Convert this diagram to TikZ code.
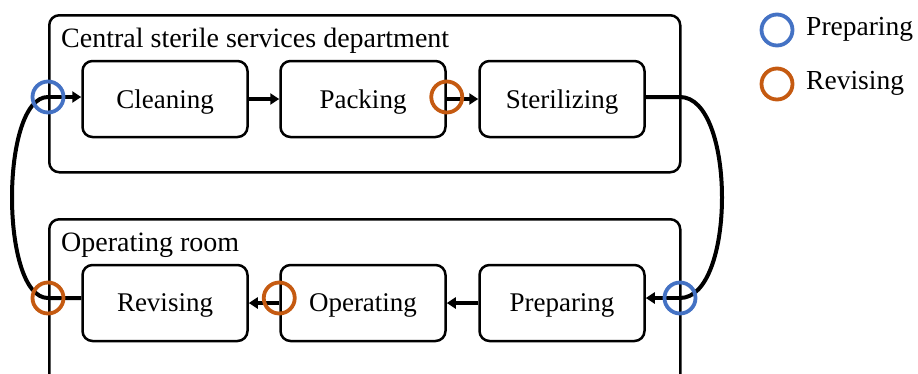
\documentclass[tikz,border=0pt]{standalone}
\usepackage{fontspec}
\setmainfont{Liberation Serif}
\usetikzlibrary{arrows.meta}
\begin{document}
\begin{tikzpicture}[x=1pt,y=-1pt,
  container/.style={draw,line width=2.5pt,rounded corners=10pt},
  stepbox/.style={draw,line width=2.5pt,rounded corners=10pt,minimum width=165pt,minimum height=76pt,font=\fontsize{27}{31}\selectfont,inner sep=0pt,text depth=0pt},
  flow/.style={line width=3.2pt,-{Triangle[length=9pt,width=11pt]}},
  loop/.style={line width=4pt},
  ring/.style={draw,line width=3.8pt,circle,minimum size=31pt,inner sep=0pt},
  title/.style={anchor=base west,font=\fontsize{28}{32}\selectfont,inner sep=0pt},
  legend/.style={anchor=west,font=\fontsize{27.5}{31}\selectfont,inner sep=0pt}]
\definecolor{cblue}{HTML}{4472C4}
\definecolor{corange}{HTML}{C55A11}
\clip (0,0) rectangle (918,373);
\useasboundingbox (0,0) rectangle (918,373);
% containers
\node[container,minimum width=631pt,minimum height=157pt,anchor=north west] (csd) at (48,14) {};
\node[container,minimum width=631pt,minimum height=190pt,anchor=north west] (orm) at (48,218) {};
\node[title] (t1) at (61,47) {Central sterile services department};
\node[title] (t2) at (61,251) {Operating room};
% steps
\node[stepbox] (clean) at (165,99) {Cleaning};
\node[stepbox] (pack) at (363,99) {Packing};
\node[stepbox] (steril) at (562,99) {Sterilizing};
\node[stepbox] (revis) at (165,303) {Revising};
\node[stepbox] (oper) at (363,303) {Operating};
\node[stepbox] (prep) at (562,303) {Preparing};
% coordinates
\coordinate (r1) at (680,97);
\coordinate (r2) at (680,298);
\coordinate (l1) at (48,97);
\coordinate (l2) at (48,298);
% arrows
\draw[flow] (clean.east) -- (pack.west);
\draw[flow] (pack.east) -- (steril.west);
\draw[flow] (prep.west) -- (oper.east);
\draw[flow] (oper.west) -- (revis.east);
\draw[loop] (steril.east |- r1) -- (r1) .. controls (736,97) and (736,298) .. (r2);
\draw[flow] (r2) -- (prep.east |- r2);
\draw[loop] (revis.west |- l2) -- (l2) .. controls (0,298) and (0,97) .. (l1);
\draw[flow] (l1) -- (clean.west |- l1);
% rings
\node[ring,draw=cblue] (c1) at (l1) {};
\node[ring,draw=corange] (c2) at (pack.east |- l1) {};
\node[ring,draw=cblue] (c3) at (r2) {};
\node[ring,draw=corange] (c4) at (l2) {};
\node[ring,draw=corange] (c5) at (oper.west |- l2) {};
% legend
\node[ring,draw=cblue] (lg1) at (777,30) {};
\node[ring,draw=corange] (lg2) at (777,84) {};
\node[legend] (lt1) at (806,29) {Preparing};
\node[legend] (lt2) at (806,83) {Revising};
\end{tikzpicture}
\end{document}
